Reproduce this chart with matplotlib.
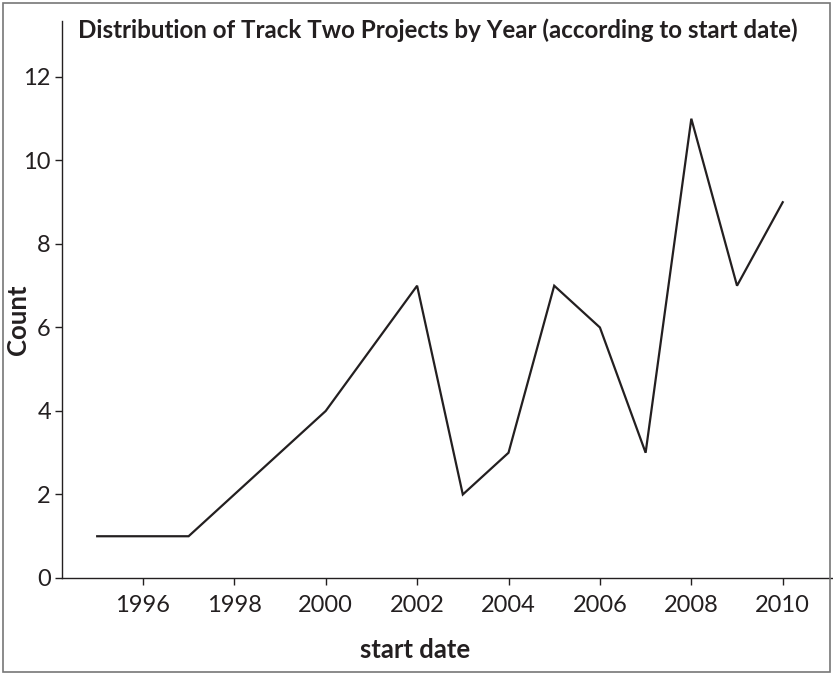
import matplotlib.pyplot as plt
from matplotlib.patches import Rectangle

# Track Two projects per start year
years = [1995, 1997, 2000, 2002, 2003, 2004, 2005, 2006, 2007, 2008, 2009, 2010]
counts = [1, 1, 4, 7, 2, 3, 7, 6, 3, 11, 7, 9]
xticks = [1996, 1998, 2000, 2002, 2004, 2006, 2008, 2010]
yticks = [0, 2, 4, 6, 8, 10, 12]

plt.rcParams['font.family'] = ['Lato', 'DejaVu Sans']
ink = '#231f20'

W, H = 833, 675
fig = plt.figure(figsize=(W / 100, H / 100), dpi=100)
ax = fig.add_axes([62 / W, (H - 578) / H, (833 - 62) / W, (578 - 21) / H])

ax.plot(years, counts, color=ink, linewidth=1.6, solid_joinstyle='miter')

ax.set_xlim(1994.23, 2011.1)
ax.set_ylim(0, 13.34)
ax.set_xticks(xticks)
ax.set_yticks(yticks)
ax.tick_params(labelsize=17, colors=ink, length=5, width=1)
ax.tick_params(axis='x', pad=7)
ax.tick_params(axis='y', pad=3)
for s in ['top', 'right']:
    ax.spines[s].set_visible(False)
for s in ['left', 'bottom']:
    ax.spines[s].set_color(ink)
    ax.spines[s].set_linewidth(1)

fig.text(78 / W, 1 - 30 / H, 'Distribution of Track Two Projects by Year (according to start date)',
         fontsize=17.4, fontweight='bold', color=ink, ha='left', va='center')
fig.text(415 / W, 1 - 650 / H, 'start date', fontsize=18.5, fontweight='bold', color=ink,
         ha='center', va='center')
fig.text(18 / W, 1 - 320 / H, 'Count', fontsize=18.5, fontweight='bold', color=ink,
         ha='center', va='center', rotation=90)

# outer frame
fig.patches.append(Rectangle((3 / W, 3 / H), 827 / W, 669 / H, transform=fig.transFigure,
                             fill=False, edgecolor='#777777', linewidth=1.2))

fig.savefig('out.png', dpi=100)
